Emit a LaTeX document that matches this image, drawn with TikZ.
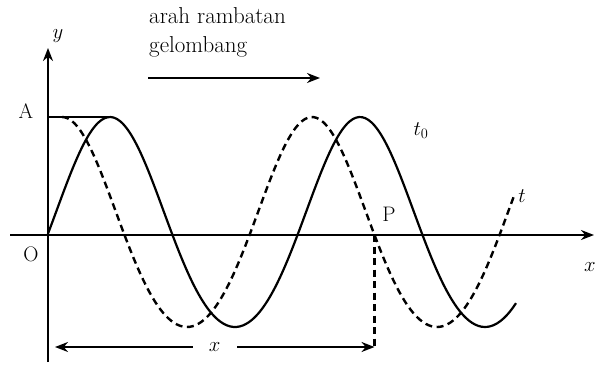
\documentclass[tikz,border=0pt]{standalone}
\usepackage{tikz}
\usepackage{xcolor}
\usetikzlibrary{arrows.meta}

\tikzset{
  axis/.style={line width=2pt,-{Stealth[length=13pt,width=10pt]}},
  wave/.style={line width=2.2pt},
  wavedash/.style={line width=2.4pt,dash pattern=on 7pt off 4.5pt},
  lab/.style={font=\fontsize{21}{24}\selectfont},
  declare function={wv(\t)=105*cos(\t)+13*cos(\t)*cos(\t);}
}

\begin{document}
\begin{tikzpicture}[x=1pt,y=-1pt]
      \useasboundingbox (0,0) rectangle (596,367);
      % axes
      \coordinate (O) at (48,235);
      \coordinate (xl) at (10,235);
      \coordinate (xr) at (594,235);
      \coordinate (yt) at (48,48);
      \coordinate (yb) at (48,362);
      \draw[axis] (xl) -- (xr);
      \draw[axis] (yb) -- (yt);
      \node[lab] (ylab) at (58,36) {$y$};
      \node[lab] (xlab) at (590,267) {$x$};
      \node[lab] (Olab) at (31,254) {O};
      \node[lab] (Alab) at (26,111) {A};
      % waves
      \coordinate (Atop) at (48,117);
      \coordinate (pk) at (110,117);
      \draw[wave] (Atop) -- (pk);
      \draw[wave] plot[domain=48:516,samples=150,smooth] (\x,{235-wv(1.44*(\x-110))});
      \draw[wavedash] plot[domain=62:514,samples=150,smooth] (\x,{235-wv(1.44*(\x-62))});
      \node[lab] (tnol) at (421,131) {$t_0$};
      \node[lab] (tlab) at (522,196) {$t$};
      % point P and distance x
      \coordinate (P) at (374.5,235);
      \coordinate (Pb) at (374.5,347);
      \coordinate (Ob) at (55,347);
      \node[lab] (Plab) at (389,214) {P};
      \draw[wavedash] (P) -- (Pb);
      \draw[line width=2pt,{Stealth[length=13pt,width=10pt]}-{Stealth[length=13pt,width=10pt]}]
        (Ob) -- node[fill=white,inner xsep=16pt,lab] (xdist) {$x$} (Pb);
      % propagation direction
      \node[anchor=north west,align=left,inner sep=0pt,font=\fontsize{23}{29}\selectfont]
        (arah) at (149,7) {arah rambatan\\gelombang};
      \coordinate (al) at (148,78);
      \coordinate (ar) at (320,78);
      \draw[axis,line width=1.8pt] (al) -- (ar);
\end{tikzpicture}
\end{document}
